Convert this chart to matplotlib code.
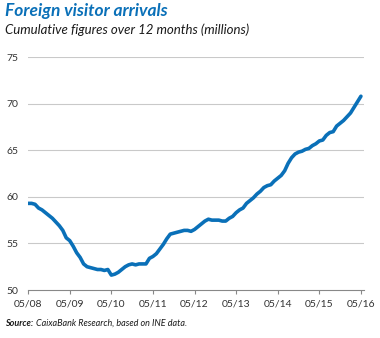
import matplotlib
matplotlib.use('Agg')

import matplotlib.pyplot as plt
import numpy as np

plt.rcParams['font.family'] = ['Lato', 'DejaVu Sans']

# 12-month cumulative foreign visitor arrivals (millions), monthly from 05/08 to 05/16
arrivals = [
    59.3, 59.3, 59.2, 58.8, 58.6, 58.3, 58.0, 57.7, 57.3, 56.9, 56.4, 55.6,
    55.3, 54.7, 54.0, 53.5, 52.8, 52.5, 52.4, 52.3, 52.2, 52.2, 52.1, 52.2,
    51.6, 51.7, 51.9, 52.2, 52.5, 52.7, 52.8, 52.7, 52.8, 52.8, 52.8, 53.4,
    53.6, 53.9, 54.4, 54.9, 55.5, 56.0, 56.1, 56.2, 56.3, 56.4, 56.4, 56.3,
    56.5, 56.8, 57.1, 57.4, 57.6, 57.5, 57.5, 57.5, 57.4, 57.4, 57.7, 57.9,
    58.3, 58.6, 58.8, 59.3, 59.6, 59.9, 60.3, 60.6, 61.0, 61.2, 61.3, 61.7,
    62.0, 62.3, 62.8, 63.6, 64.2, 64.6, 64.8, 64.9, 65.1, 65.2, 65.5, 65.7,
    66.0, 66.1, 66.6, 66.9, 67.0, 67.6, 67.9, 68.2, 68.6, 69.0, 69.6, 70.2,
    70.8,
]
tick_labels = ['05/08', '05/09', '05/10', '05/11', '05/12', '05/13', '05/14', '05/15', '05/16']
y_ticks = [50, 55, 60, 65, 70, 75]

blue = '#0a70b8'
grid_grey = '#c9c9c9'

fig = plt.figure(figsize=(3.8, 3.38), dpi=100)
ax = fig.add_axes([0.074, 0.142, 0.884, 0.689])

months = np.arange(len(arrivals))
ax.plot(months, arrivals, color=blue, linewidth=2.6, solid_capstyle='round',
        solid_joinstyle='round', zorder=3)

ax.set_xlim(0, 96.9)
ax.set_ylim(50, 75)
ax.set_yticks(y_ticks)
ax.set_yticklabels([str(v) for v in y_ticks], fontsize=7.5, color='#333333')
ax.set_xticks(np.arange(0, 97, 12))
ax.set_xticklabels(tick_labels, fontsize=7.5, color='#333333')

for v in y_ticks[1:]:
    ax.axhline(v, color=grid_grey, linewidth=0.8, zorder=1)

for s in ['top', 'right', 'left']:
    ax.spines[s].set_visible(False)
ax.spines['bottom'].set_color('#888888')
ax.spines['bottom'].set_linewidth(0.8)
ax.tick_params(axis='y', length=0, pad=7)
ax.tick_params(axis='x', length=3, width=0.8, color='#888888', direction='out', pad=4)

fig.text(0.013, 0.99, 'Foreign visitor arrivals', fontsize=12.5, fontweight='bold',
         fontstyle='italic', color=blue, va='top', ha='left')
fig.text(0.013, 0.93, 'Cumulative figures over 12 months (millions)', fontsize=9.5,
         fontstyle='italic', color='#1a1a1a', va='top', ha='left')

src = fig.text(0.013, 0.03, 'Source:', fontsize=6.5, fontweight='bold', fontstyle='italic',
               color='#1a1a1a', va='bottom', ha='left')
fig.canvas.draw()
bb = src.get_window_extent().transformed(fig.transFigure.inverted())
fig.text(bb.x1 + 0.008, 0.03, 'CaixaBank Research, based on INE data.', fontsize=6.5,
         fontstyle='italic', color='#1a1a1a', va='bottom', ha='left')

fig.savefig('out.png', dpi=100)
